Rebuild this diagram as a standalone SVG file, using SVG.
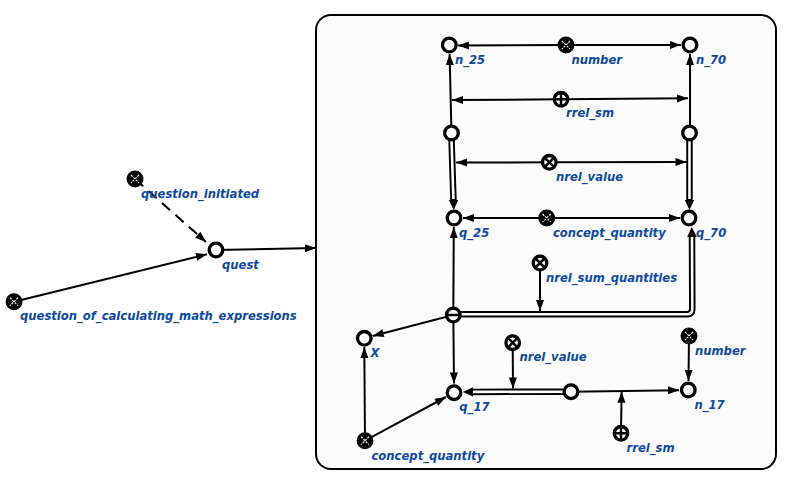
<svg xmlns="http://www.w3.org/2000/svg" width="792" height="485" viewBox="0 0 792 485">
<defs>
<marker id="ar" markerUnits="userSpaceOnUse" markerWidth="11" markerHeight="8" refX="11" refY="4" orient="auto" overflow="visible">
<path d="M0,0 L11,4 L0,8 z" fill="#000"/>
</marker>
</defs>
<style>
.e{stroke:#000;stroke-width:2;fill:none}
.d{stroke-dasharray:11,7}
.dbo{stroke:#000;stroke-width:6.5;fill:none}
.dbi{stroke:#fff;stroke-width:2.6;fill:none}
.n{fill:#fff;stroke:#000;stroke-width:3.3}
.c{fill:#000;stroke:#000;stroke-width:3.3}
.cx{stroke:#fff;stroke-width:1.1;stroke-dasharray:2.2,1.2}
.x{stroke:#000;stroke-width:2.5}
text{font-family:"DejaVu Sans",sans-serif;font-size:11.6px;font-weight:bold;font-style:italic;fill:#0b4aa2}
</style>
<rect x="316" y="15" width="460" height="454" rx="15" fill="#fcfcfc" stroke="#000" stroke-width="2"/>
<g id="connectors">
<line class="e d" x1="135" y1="179" x2="206" y2="242" marker-end="url(#ar)"/>
<line class="e" x1="14" y1="301.7" x2="207" y2="254.3" marker-end="url(#ar)"/>
<line class="e" x1="216" y1="250" x2="316" y2="248" marker-end="url(#ar)"/>
<line class="e" x1="566" y1="45" x2="458" y2="45.5" marker-end="url(#ar)"/>
<line class="e" x1="566" y1="45" x2="681" y2="45" marker-end="url(#ar)"/>
<line class="e" x1="451.5" y1="133" x2="449.6" y2="54" marker-end="url(#ar)"/>
<line class="e" x1="690" y1="133" x2="690" y2="54" marker-end="url(#ar)"/>
<line class="e" x1="561" y1="99.3" x2="452" y2="100" marker-end="url(#ar)"/>
<line class="e" x1="561" y1="99.3" x2="688" y2="98.3" marker-end="url(#ar)"/>
<path class="dbo" d="M451.3,133 L453.5,201"/>
<path class="dbi" d="M451.3,133 L453.4,199"/>
<polygon points="448.8,200 458.2,200 453.7,210"/>
<path class="dbo" d="M689.5,133 L689.5,201"/>
<path class="dbi" d="M689.5,133 L689.5,199"/>
<polygon points="684.8,200 694.2,200 689.5,210"/>
<line class="e" x1="549.3" y1="162.3" x2="456" y2="162.5" marker-end="url(#ar)"/>
<line class="e" x1="549.3" y1="162.3" x2="686.5" y2="162" marker-end="url(#ar)"/>
<line class="e" x1="546.7" y1="218" x2="463" y2="218" marker-end="url(#ar)"/>
<line class="e" x1="546.7" y1="218" x2="680" y2="218" marker-end="url(#ar)"/>
<line class="e" x1="453.3" y1="315" x2="453.8" y2="227" marker-end="url(#ar)"/>
<path class="dbo" d="M453.3,314.3 L687,314.3 Q692.3,314.3 692.3,309 L692,237"/>
<path class="dbi" d="M453.3,314.3 L687,314.3 Q692.3,314.3 692.3,309 L692,235"/>
<polygon points="687.2,237 696.8,237 691.7,227"/>
<line class="e" x1="540" y1="263" x2="540" y2="311" marker-end="url(#ar)"/>
<line class="e" x1="453.3" y1="315" x2="372.7" y2="336" marker-end="url(#ar)"/>
<line class="e" x1="453.3" y1="315" x2="454" y2="383.5" marker-end="url(#ar)"/>
<path class="dbo" d="M571,391.7 L473,391.9"/>
<path class="dbi" d="M571,391.7 L471,391.9"/>
<polygon points="473,387.2 473,396.6 463,392"/>
<line class="e" x1="512.7" y1="342.7" x2="513" y2="388.5" marker-end="url(#ar)"/>
<line class="e" x1="571" y1="391.7" x2="679" y2="390.2" marker-end="url(#ar)"/>
<line class="e" x1="621" y1="433.3" x2="621.6" y2="391.8" marker-end="url(#ar)"/>
<line class="e" x1="689" y1="336" x2="688.5" y2="381" marker-end="url(#ar)"/>
<line class="e" x1="365" y1="440.7" x2="364.3" y2="347" marker-end="url(#ar)"/>
<line class="e" x1="365" y1="440.7" x2="446" y2="397" marker-end="url(#ar)"/>
</g>
<g id="question_initiated"><circle class="c" cx="135" cy="179" r="6.8"/><path class="cx" d="M131,175 L139,183 M139,175 L131,183"/><text x="141" y="197.5">question_initiated</text></g>
<g id="question_of_calculating_math_expressions"><circle class="c" cx="14" cy="301.7" r="6.8"/><path class="cx" d="M10,297.7 L18,305.7 M18,297.7 L10,305.7"/><text x="20" y="320">question_of_calculating_math_expressions</text></g>
<g id="quest"><circle class="n" cx="216" cy="250" r="6.8"/><text x="222" y="269">quest</text></g>
<g id="n_25"><circle class="n" cx="449.3" cy="45" r="6.8"/><text x="455" y="63.5">n_25</text></g>
<g id="number"><circle class="c" cx="566" cy="45" r="6.8"/><path class="cx" d="M562,41 L570,49 M570,41 L562,49"/><text x="571.5" y="63.5">number</text></g>
<g id="n_70"><circle class="n" cx="690" cy="45" r="6.8"/><text x="696" y="63.5">n_70</text></g>
<g id="rrel_sm"><circle class="n" cx="561" cy="99.3" r="6.8"/><path class="x" d="M561,93 V105.6 M554.7,99.3 H567.3"/><text x="566" y="117">rrel_sm</text></g>
<g id="node_a"><circle class="n" cx="451.5" cy="133" r="6.8"/></g>
<g id="node_b"><circle class="n" cx="689.5" cy="133" r="6.8"/></g>
<g id="nrel_value"><circle class="n" cx="549.3" cy="162.3" r="6.8"/><path class="x" d="M545.3,158.3 L553.3,166.3 M553.3,158.3 L545.3,166.3"/><text x="556" y="181">nrel_value</text></g>
<g id="q_25"><circle class="n" cx="454" cy="218" r="6.8"/><text x="459" y="236.5">q_25</text></g>
<g id="concept_quantity"><circle class="c" cx="546.7" cy="218" r="6.8"/><path class="cx" d="M542.7,214 L550.7,222 M550.7,214 L542.7,222"/><text x="553" y="236.5">concept_quantity</text></g>
<g id="q_70"><circle class="n" cx="689" cy="218" r="6.8"/><text x="696" y="236.5">q_70</text></g>
<g id="nrel_sum_quantities"><circle class="n" cx="540" cy="263" r="6.8"/><path class="x" d="M536,259 L544,267 M544,259 L536,267"/><text x="546" y="281.5">nrel_sum_quantities</text></g>
<g id="tuple"><circle class="n" cx="453.3" cy="315" r="6.8"/><path class="x" d="M447,315 H459.6"/></g>
<g id="X"><circle class="n" cx="364.3" cy="338.3" r="6.8"/><text x="370.5" y="356.5">X</text></g>
<g id="nrel_value_2"><circle class="n" cx="512.7" cy="342.7" r="6.8"/><path class="x" d="M508.7,338.7 L516.7,346.7 M516.7,338.7 L508.7,346.7"/><text x="519.5" y="361">nrel_value</text></g>
<g id="number_2"><circle class="c" cx="689" cy="336" r="6.8"/><path class="cx" d="M685,332 L693,340 M693,332 L685,340"/><text x="695" y="354.5">number</text></g>
<g id="q_17"><circle class="n" cx="454" cy="392.7" r="6.8"/><text x="459.3" y="410.5">q_17</text></g>
<g id="node_c"><circle class="n" cx="571" cy="391.7" r="6.8"/></g>
<g id="n_17"><circle class="n" cx="688.3" cy="390" r="6.8"/><text x="694.5" y="408.5">n_17</text></g>
<g id="rrel_sm_2"><circle class="n" cx="621" cy="433.3" r="6.8"/><path class="x" d="M621,427 V439.6 M614.7,433.3 H627.3"/><text x="626.5" y="452">rrel_sm</text></g>
<g id="concept_quantity_2"><circle class="c" cx="365" cy="440.7" r="6.8"/><path class="cx" d="M361,436.7 L369,444.7 M369,436.7 L361,444.7"/><text x="371.5" y="460">concept_quantity</text></g>
</svg>
